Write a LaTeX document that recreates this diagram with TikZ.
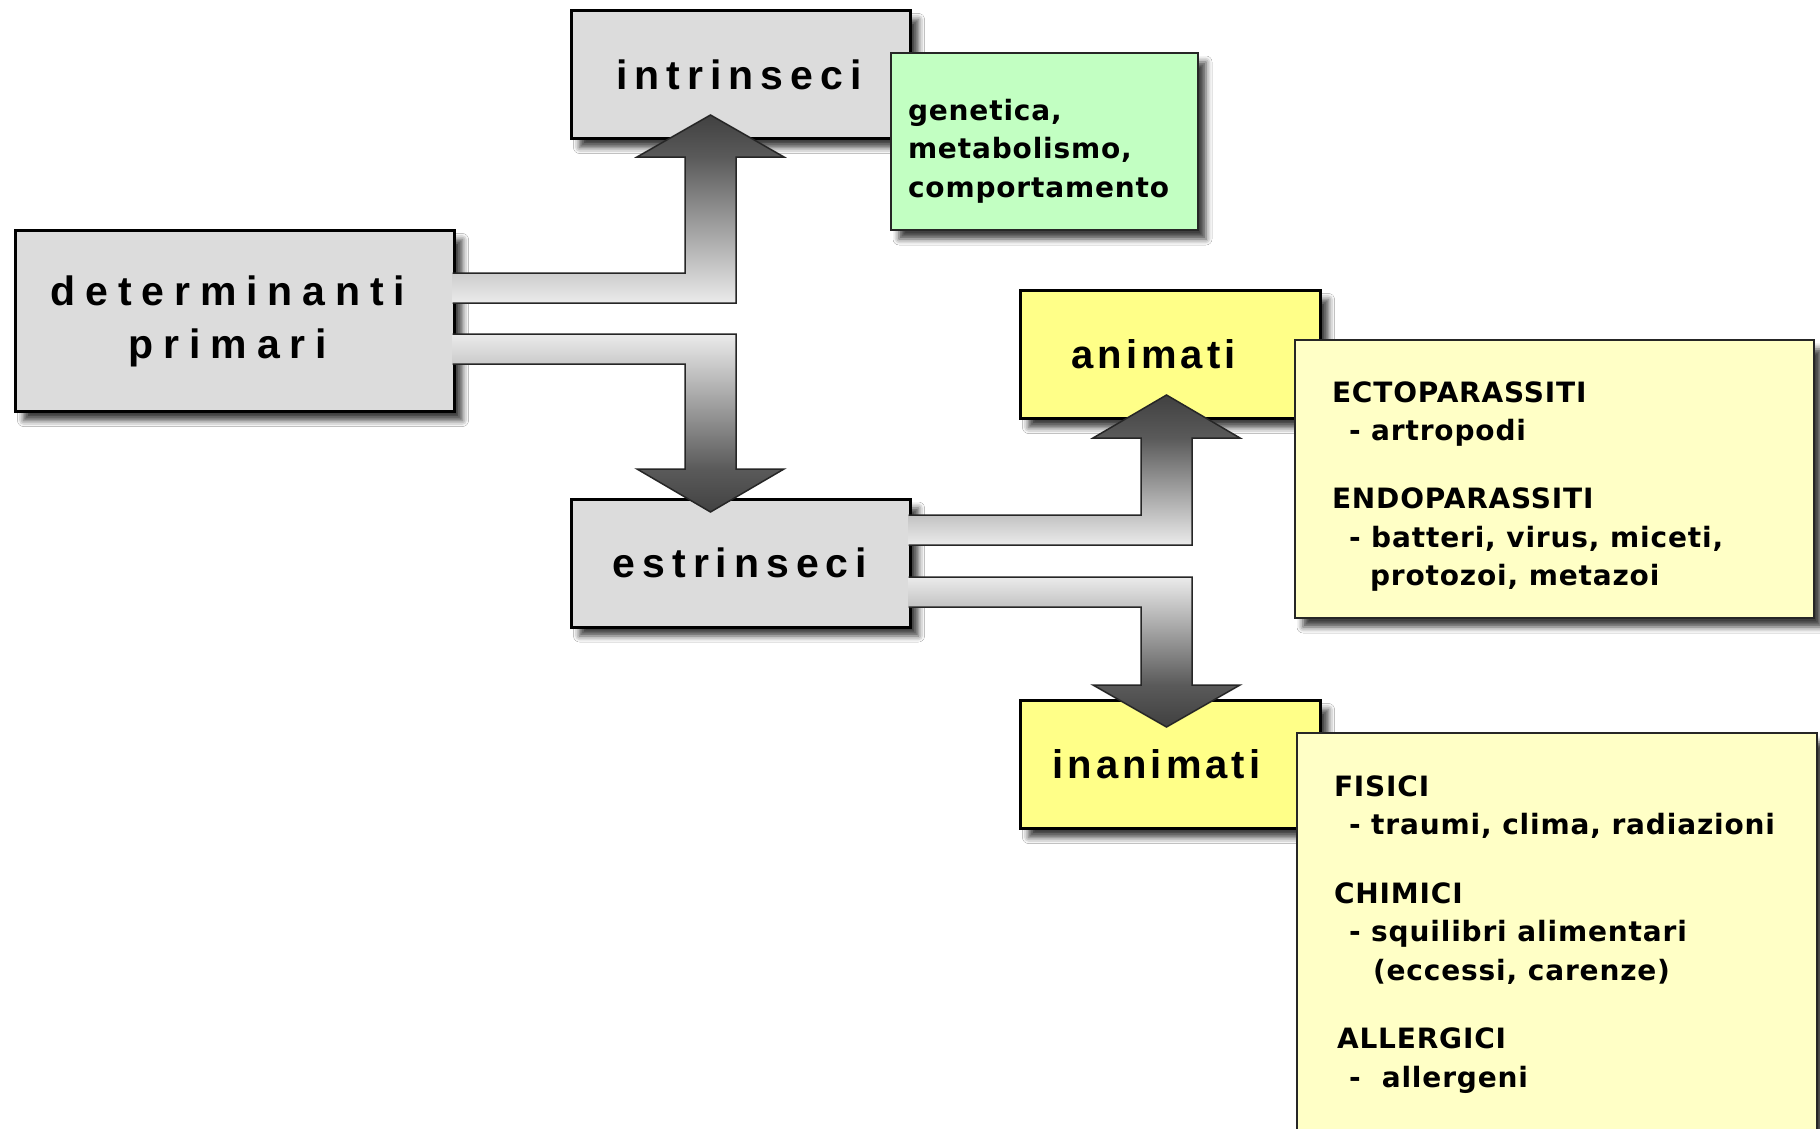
\documentclass[tikz,border=0pt]{standalone}
\usepackage{fontspec}
\setmainfont{Liberation Sans}
\newfontfamily\detfont[LetterSpace=24]{Liberation Sans}
\newfontfamily\grayfont[LetterSpace=17]{Liberation Sans}
\newfontfamily\yelfont[LetterSpace=10]{Liberation Sans}
\newfontfamily\infofont[LetterSpace=3]{DejaVu Sans}
\usetikzlibrary{shadows.blur}
\definecolor{boxgray}{HTML}{DCDCDC}
\definecolor{lblyellow}{HTML}{FFFF88}
\definecolor{infoyellow}{HTML}{FFFFC6}
\definecolor{infogreen}{HTML}{C2FFC2}
\definecolor{shaftlight}{HTML}{EBEBEB}
\definecolor{shaftdark}{HTML}{5A5A5A}
\definecolor{headdark}{HTML}{383838}
\tikzset{
  boxshadow/.style={blur shadow={shadow xshift=8pt, shadow yshift=-9pt, shadow blur radius=6pt, shadow opacity=75}},
  lblbox/.style={draw=black, line width=3pt, inner sep=0pt, outer sep=0pt, boxshadow, align=center},
  graybox/.style={lblbox, fill=boxgray, font=\grayfont\bfseries\fontsize{41}{50}\selectfont},
  yellowbox/.style={lblbox, fill=lblyellow, font=\yelfont\bfseries\fontsize{40}{48}\selectfont},
  infobox/.style={draw=black!85, line width=2pt, inner sep=0pt, outer sep=0pt, boxshadow},
  infotext/.style={anchor=north west, inner sep=0pt, outer sep=0pt, align=left,
    font=\infofont\bfseries\fontsize{28}{38.5}\selectfont},
  arrowline/.style={draw=black!85, line width=1.5pt, line join=miter},
}
\begin{document}
\begin{tikzpicture}[x=1pt, y=-1pt]
\useasboundingbox (0,0) rectangle (1820,1129);
\fill[white] (0,0) rectangle (1820,1129);
\clip (0,0) rectangle (1820,1129);

% label boxes
\node[graybox, minimum width=339pt, minimum height=128pt] (intr) at (741,74.5) {intrinseci\hspace*{4pt}};
\node[graybox, minimum width=439pt, minimum height=181pt,
      font=\detfont\bfseries\fontsize{41}{53}\selectfont] (det) at (235,321) {determinanti\hspace*{14pt}\\primari\hspace*{14pt}};
\node[graybox, minimum width=339pt, minimum height=128pt] (estr) at (741,563) {estrinseci\hspace*{2pt}};
\node[yellowbox, minimum width=300pt, minimum height=128pt] (anim) at (1170.5,354.5) {animati\hspace*{34pt}};
\node[yellowbox, minimum width=300pt, minimum height=128pt] (inanim) at (1170.5,764.5) {inanimati\hspace*{28pt}};

% info boxes
\node[infobox, fill=infogreen, minimum width=307pt, minimum height=177pt] (gbox) at (1044.5,141.5) {};
\node[infobox, fill=infoyellow, minimum width=519pt, minimum height=278pt] (ebox) at (1554.5,479) {};
\node[infobox, fill=infoyellow, minimum width=520pt, minimum height=430pt] (fbox) at (1557,948) {};

\node[infotext] (gtxt) at (908,93.05) {\strut genetica,\\metabolismo,\\comportamento};
\node[infotext] (etxt) at (1332,375.05) {\strut ECTOPARASSITI\\\hspace*{17pt}- artropodi\\[29.5pt]ENDOPARASSITI\\\hspace*{17pt}- batteri, virus, miceti,\\\hspace*{38pt}protozoi, metazoi};
\node[infotext] (ftxt) at (1334,769.05) {\strut FISICI\\\hspace*{15pt}- traumi, clima, radiazioni\\[30pt]CHIMICI\\\hspace*{15pt}- squilibri alimentari\\\hspace*{39pt}(eccessi, carenze)\\[30pt]\hspace*{3pt}ALLERGICI\\\hspace*{15pt}- \ allergeni};

% arrow: determinanti -> intrinseci
\coordinate (a1) at ([xshift=-2pt]det.east |- 0,273);
\coordinate (a2) at ([xshift=-2pt]det.east |- 0,303);
\coordinate (atip) at ([yshift=23.5pt]intr.south -| 710.5,0);
\begin{scope}
\clip (a1) -- (685,273) -- (685,157) -- (637,157) -- (atip) -- (784,157) -- (736,157) -- (736,303) -- (a2) -- cycle;
\shade[top color=shaftdark, bottom color=shaftlight] (400,157) rectangle (800,303);
\shade[top color=headdark, bottom color=shaftdark] (600,100) rectangle (800,157);
\end{scope}
\draw[arrowline] (a1) -- (685,273) -- (685,157) -- (637,157) -- (atip) -- (784,157) -- (736,157) -- (736,303) -- (a2);

% arrow: determinanti -> estrinseci
\coordinate (b1) at ([xshift=-2pt]det.east |- 0,334);
\coordinate (b2) at ([xshift=-2pt]det.east |- 0,364);
\coordinate (btip) at ([yshift=-13pt]estr.north -| 710.5,0);
\begin{scope}
\clip (b1) -- (736,334) -- (736,469) -- (784,469) -- (btip) -- (637,469) -- (685,469) -- (685,364) -- (b2) -- cycle;
\shade[top color=shaftlight, bottom color=shaftdark] (400,334) rectangle (800,469);
\shade[top color=shaftdark, bottom color=headdark] (600,469) rectangle (800,530);
\end{scope}
\draw[arrowline] (b1) -- (736,334) -- (736,469) -- (784,469) -- (btip) -- (637,469) -- (685,469) -- (685,364) -- (b2);

% arrow: estrinseci -> animati
\coordinate (c1) at ([xshift=-2pt]estr.east |- 0,515);
\coordinate (c2) at ([xshift=-2pt]estr.east |- 0,545);
\coordinate (ctip) at ([yshift=23.5pt]anim.south -| 1166.5,0);
\begin{scope}
\clip (c1) -- (1141,515) -- (1141,438) -- (1093,438) -- (ctip) -- (1240,438) -- (1192,438) -- (1192,545) -- (c2) -- cycle;
\shade[top color=shaftdark, bottom color=shaftlight] (850,438) rectangle (1250,545);
\shade[top color=headdark, bottom color=shaftdark] (1050,380) rectangle (1250,438);
\end{scope}
\draw[arrowline] (c1) -- (1141,515) -- (1141,438) -- (1093,438) -- (ctip) -- (1240,438) -- (1192,438) -- (1192,545) -- (c2);

% arrow: estrinseci -> inanimati
\coordinate (d1) at ([xshift=-2pt]estr.east |- 0,577);
\coordinate (d2) at ([xshift=-2pt]estr.east |- 0,607);
\coordinate (dtip) at ([yshift=-26.5pt]inanim.north -| 1166.5,0);
\begin{scope}
\clip (d1) -- (1192,577) -- (1192,685) -- (1240,685) -- (dtip) -- (1093,685) -- (1141,685) -- (1141,607) -- (d2) -- cycle;
\shade[top color=shaftlight, bottom color=shaftdark] (850,577) rectangle (1250,685);
\shade[top color=shaftdark, bottom color=headdark] (1050,685) rectangle (1250,740);
\end{scope}
\draw[arrowline] (d1) -- (1192,577) -- (1192,685) -- (1240,685) -- (dtip) -- (1093,685) -- (1141,685) -- (1141,607) -- (d2);
\end{tikzpicture}
\end{document}
